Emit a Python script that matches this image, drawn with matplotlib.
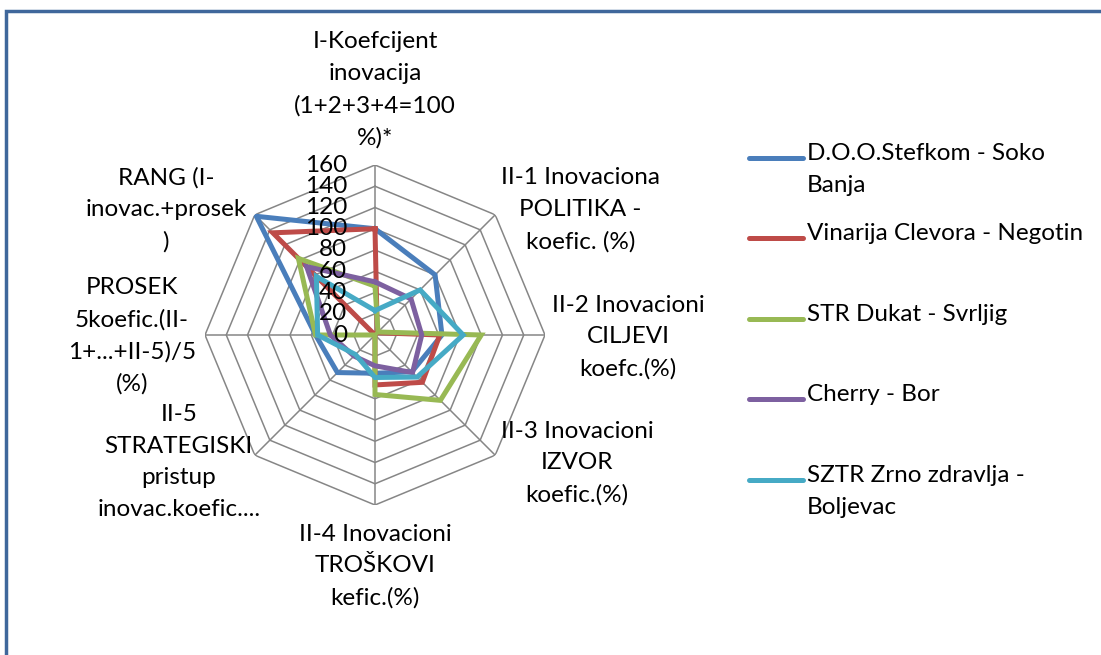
import numpy as np
import matplotlib
matplotlib.use("Agg")
import matplotlib.pyplot as plt
from matplotlib.lines import Line2D
from matplotlib.patches import Rectangle

plt.rcParams['font.family'] = ['Lato', 'DejaVu Sans']

categories = [
    "I-Koefcijent\ninovacija\n(1+2+3+4=100\n%)*",
    "II-1 Inovaciona\nPOLITIKA -\nkoefic. (%)",
    "II-2 Inovacioni\nCILJEVI\nkoefc.(%)",
    "II-3 Inovacioni\nIZVOR\nkoefic.(%)",
    "II-4 Inovacioni\nTROŠKOVI\nkefic.(%)",
    "II-5\nSTRATEGISKI\npristup\ninovac.koefic....",
    "PROSEK\n5koefic.(II-\n1+...+II-5)/5\n(%)",
    "RANG (I-\ninovac.+prosek\n)",
]
stefkom = [100, 80, 63, 49, 36, 50, 56, 158]
clevora = [100, 3, 61, 63, 47, 0, 0, 136]
dukat = [46, 4, 100, 87, 56, 0, 56, 102]
cherry = [50, 48, 44, 50, 29, 28, 42, 91]
zrno = [23, 60, 83, 56, 40, 26, 54, 78]

series_names = ["D.O.O.Stefkom - Soko\nBanja", "Vinarija Clevora - Negotin",
                "STR Dukat - Svrljig", "Cherry - Bor", "SZTR Zrno zdravlja -\nBoljevac"]
series_vals = [stefkom, clevora, dukat, cherry, zrno]
colors = ["#4A7EBB", "#BE4B48", "#98B954", "#7D60A0", "#46AAC5"]
ticks = [0, 20, 40, 60, 80, 100, 120, 140, 160]

FS = 17.5
LS = 1.62

W, H = 1101, 655
fig = plt.figure(figsize=(W / 100, H / 100), dpi=100)

# outer chart frame (top and left edges visible)
fig.add_artist(Rectangle((6 / W, -0.05), 1.2, (H - 11) / H + 0.05, transform=fig.transFigure,
                         fill=False, edgecolor="#3F679B", linewidth=2.5))

cx, cy, R = 375, 335, 170
ax = fig.add_axes([(cx - R) / W, (H - cy - R) / H, 2 * R / W, 2 * R / H], projection='polar')
ax.set_theta_offset(np.pi / 2)
ax.set_theta_direction(-1)
ax.set_ylim(0, 160)
ax.grid(False)
ax.spines['polar'].set_visible(False)
ax.set_xticks([])
ax.set_yticks([])
ax.patch.set_alpha(0)

n = len(categories)
theta = np.arange(n) * 2 * np.pi / n
theta_c = np.append(theta, theta[0])

# octagonal grid
for t in ticks[1:]:
    ax.plot(theta_c, [t] * (n + 1), color="#868686", lw=1.1, zorder=1)
for th in theta:
    ax.plot([th, th], [0, 160], color="#868686", lw=1.1, zorder=1)

for vals, c in zip(series_vals, colors):
    ax.plot(theta_c, vals + vals[:1], color=c, lw=3.6, zorder=3, solid_joinstyle='miter')

for t in ticks:
    ax.annotate(str(t), xy=(0, t), xytext=(-28, 0), textcoords='offset pixels',
                ha='right', va='center', fontsize=FS, zorder=4, annotation_clip=False)

label_offsets = [(0, 75), (85, 5), (83, -2), (82, -8), (0, -61), (-76, -7), (-73, -1), (-89, 5)]
for th, lab, off in zip(theta, categories, label_offsets):
    ax.annotate(lab, xy=(th, 160), xytext=off, textcoords='offset pixels',
                ha='center', va='center', multialignment='center', fontsize=FS,
                linespacing=LS, annotation_clip=False)

# legend
leg_y = [158, 238, 319, 399, 480]
for name, c, y in zip(series_names, colors, leg_y):
    fig.add_artist(Line2D([749 / W, 803 / W], [1 - y / H, 1 - y / H], color=c, lw=3.6,
                          solid_capstyle='round'))
    fig.text(807 / W, 1 - (y - 15) / H, name, ha='left', va='top', fontsize=FS, linespacing=LS)

fig.savefig("out.png", dpi=100)
